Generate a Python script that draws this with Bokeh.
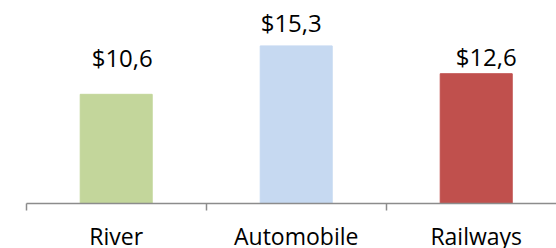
from bokeh.plotting import figure
from bokeh.models import FixedTicker, ColumnDataSource, Range1d
from bokeh.core.properties import value
from bokeh.embed import file_html
from bokeh.resources import INLINE

categories = ["River", "Automobile", "Railways"]
values = [10.6, 15.3, 12.6]
labels = ["$10,6", "$15,3", "$12,6"]
colors = ["#c3d69b", "#c6d9f1", "#c0504d"]
# label nudges (px), as placed in the original
label_dx = [6, -5, 10]
label_dy = [-37, -23, -17]

n = len(categories)
xs = [i + 0.5 for i in range(n)]

src = ColumnDataSource(dict(x=xs, top=values, color=colors, label=labels,
                            dx=label_dx, dy=label_dy))

p = figure(width=556, height=248, output_backend="svg", toolbar_location=None,
           x_range=Range1d(-0.1428, 2.946), y_range=Range1d(-4.369, 19.71),
           min_border_left=0, min_border_right=0, min_border_top=0,
           min_border_bottom=0)
p.outline_line_color = None
p.grid.visible = False
p.yaxis.visible = False
p.background_fill_color = "white"
p.border_fill_color = "white"

p.vbar(x="x", top="top", width=0.4, color="color", source=src)
p.text(x="x", y="top", text="label", x_offset="dx", y_offset="dy", source=src,
       text_align="center", text_baseline="alphabetic",
       text_font=value("Open Sans"), text_font_size="24px", text_color="#000000")

ax = p.xaxis[0]
ax.fixed_location = 0
ax.bounds = (0, n)
ax.ticker = FixedTicker(ticks=xs, minor_ticks=list(range(n + 1)))
ax.major_label_overrides = {x: c for x, c in zip(xs, categories)}
ax.major_tick_out = 0
ax.major_tick_in = 0
ax.minor_tick_out = 7
ax.minor_tick_in = 0
ax.minor_tick_line_color = "#8c8c8c"
ax.minor_tick_line_width = 1.5
ax.axis_line_color = "#8c8c8c"
ax.axis_line_width = 1.5
ax.major_label_standoff = 9
ax.major_label_text_font = "Open Sans"
ax.major_label_text_font_size = "23px"
ax.major_label_text_color = "#000000"

open("out.html", "w").write(file_html(p, INLINE))
